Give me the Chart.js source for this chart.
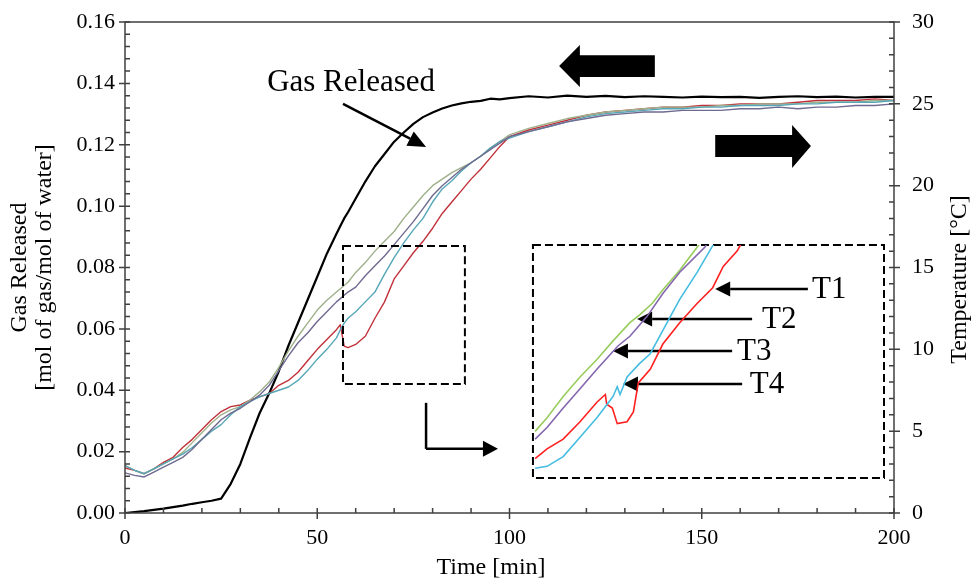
<!DOCTYPE html>
<html>
<head>
<meta charset="utf-8">
<script src="https://cdn.jsdelivr.net/npm/chart.js@4.4.0/dist/chart.umd.min.js"></script>
<style>
  html, body { margin: 0; padding: 0; background: #fff; }
  #wrap { position: relative; width: 976px; height: 583px; }
  #main { position: absolute; left: 0; top: 0; }
  #inset { position: absolute; left: 533px; top: 245px; }
</style>
</head>
<body>
<div id="wrap">
  <canvas id="main" width="976" height="583"></canvas>
  <canvas id="inset" width="351" height="233"></canvas>
</div>
<script>
// time axis [min]
const timeMin = [0, 2.5, 5, 7.5, 10, 12.5, 15, 17.5, 20, 22.5, 25, 27.5, 30, 32.5, 35, 37.5, 40, 42.5, 45, 47.5, 50, 52.5, 55,
  56, 57, 58,
  60, 62.5, 65, 67.5, 70, 72.5, 75, 77.5, 80, 82.5, 85, 87.5, 90, 92.5, 95, 97.5, 100,
  105, 110, 115, 120, 125, 130, 135, 140, 145, 150, 155, 160, 165, 170, 175, 180, 185, 190, 195, 200];

// gas released [mol of gas/mol of water]
const gasReleased = [0, 0.0003, 0.0006, 0.0010, 0.0014, 0.0019, 0.0024, 0.0030, 0.0035, 0.0040, 0.0047, 0.0095, 0.0160, 0.0245, 0.0325, 0.0390, 0.0462, 0.0545, 0.0620, 0.0695, 0.0770, 0.0845, 0.0910,
  0.0935, 0.0960, 0.0980,
  0.1025, 0.1080, 0.1130, 0.1170, 0.1210, 0.1240, 0.1268, 0.1290, 0.1305, 0.1318, 0.1328, 0.1335, 0.1340, 0.1343, 0.1350, 0.1348, 0.1352,
  0.1358, 0.1354, 0.1360, 0.1356, 0.1359, 0.1355, 0.1358, 0.1356, 0.1354, 0.1357, 0.1355, 0.1356, 0.1353, 0.1356, 0.1358, 0.1355, 0.1357, 0.1354, 0.1356, 0.1356];

// temperatures [°C]
const tempT1 = [2.75, 2.6, 2.4, 2.7, 3.1, 3.4, 4.0, 4.5, 5.1, 5.7, 6.2, 6.5, 6.6, 6.9, 7.1, 7.3, 7.8, 8.1, 8.6, 9.3, 10.0, 10.6, 11.2,
  11.5, 10.2, 10.1,
  10.3, 10.8, 11.9, 12.9, 14.3, 15.1, 15.9, 16.6, 17.4, 18.3, 19.0, 19.7, 20.4, 21.0, 21.7, 22.4, 23.0,
  23.4, 23.7, 24.0, 24.3, 24.5, 24.6, 24.7, 24.8, 24.8, 24.9, 24.9, 25.0, 25.0, 25.0, 25.1, 25.2, 25.2, 25.2, 25.3, 25.2];
const tempT2 = [2.9, 2.6, 2.4, 2.7, 3.0, 3.3, 3.7, 4.3, 4.9, 5.5, 6.0, 6.3, 6.5, 6.9, 7.4, 8.0, 8.9, 9.9, 10.8, 11.6, 12.4, 13.0, 13.5,
  13.7, 13.9, 14.1,
  14.7, 15.3, 16.0, 16.6, 17.2, 18.0, 18.7, 19.4, 20.0, 20.4, 20.8, 21.1, 21.4, 21.8, 22.3, 22.7, 23.1,
  23.5, 23.8, 24.1, 24.3, 24.5, 24.6, 24.7, 24.8, 24.8, 24.8, 24.9, 24.9, 25.0, 25.0, 25.0, 25.1, 25.1, 25.1, 25.2, 25.2];
const tempT3 = [2.45, 2.3, 2.2, 2.5, 2.8, 3.1, 3.4, 3.9, 4.5, 5.1, 5.7, 6.1, 6.4, 6.8, 7.2, 7.8, 8.7, 9.6, 10.4, 11.0, 11.7, 12.3, 12.9,
  13.1, 13.3, 13.5,
  13.8, 14.5, 15.1, 15.7, 16.4, 17.1, 17.8, 18.6, 19.4, 20.0, 20.5, 21.0, 21.4, 21.8, 22.2, 22.6, 23.0,
  23.3, 23.6, 23.9, 24.1, 24.3, 24.4, 24.5, 24.5, 24.6, 24.6, 24.6, 24.7, 24.7, 24.8, 24.7, 24.8, 24.8, 24.9, 24.9, 25.0];
const tempT4 = [2.9, 2.6, 2.4, 2.7, 3.0, 3.3, 3.6, 4.0, 4.5, 5.0, 5.4, 6.0, 6.5, 6.8, 7.1, 7.3, 7.5, 7.7, 8.1, 8.7, 9.4, 10.0, 10.7,
  11.2, 11.6, 11.9,
  12.3, 12.9, 13.5, 14.6, 15.6, 16.5, 17.3, 18.0, 19.0, 19.8, 20.3, 20.9, 21.4, 21.8, 22.3, 22.7, 22.9,
  23.3, 23.6, 23.9, 24.2, 24.4, 24.5, 24.6, 24.7, 24.7, 24.8, 24.8, 24.9, 24.9, 24.9, 25.0, 25.0, 25.1, 25.1, 25.1, 25.2];

// inset (zoomed view)
const insetT1Time = [45.3, 47.0, 49.3, 51.7, 54.1, 55.3, 55.5, 56.3, 57.0, 58.4, 59.3, 60.0, 61.7, 63.5, 65.9, 68.4, 70.6, 72.1, 74.1, 75.0];
const insetT1 = [8.0, 8.5, 9.0, 9.9, 10.9, 11.3, 10.8, 10.6, 9.8, 9.9, 10.4, 11.9, 12.6, 13.9, 15.0, 16.0, 16.8, 17.9, 18.7, 19.3];
const insetT2Time = [45.3, 47.0, 49.3, 51.7, 54.1, 56.5, 58.8, 60.2, 62.0, 63.5, 65.9, 68.4, 69.0];
const insetT2 = [9.4, 10.1, 11.2, 12.2, 13.1, 14.1, 15.0, 15.4, 16.0, 16.7, 17.7, 18.9, 19.2];
const insetT3Time = [45.3, 47.0, 49.3, 51.7, 54.1, 57.1, 58.8, 61.2, 63.5, 65.9, 69.5, 70.0];
const insetT3 = [9.0, 9.6, 10.6, 11.6, 12.6, 13.8, 14.3, 15.3, 16.5, 17.6, 18.9, 19.2];
const insetT4Time = [45.3, 47.0, 49.3, 51.7, 54.1, 56.0, 56.4, 57.0, 57.4, 58.4, 60.2, 61.7, 63.5, 65.9, 68.4, 70.5, 71.0];
const insetT4 = [7.5, 7.6, 8.1, 9.1, 10.1, 11.0, 11.2, 11.7, 11.3, 12.2, 12.9, 13.4, 14.6, 16.2, 17.6, 18.9, 19.2];

const FONT = '"Liberation Serif", "Times New Roman", serif';
const toPts = (xs, ys) => xs.map((x, i) => ({ x: x, y: ys[i] }));

function arrow(ctx, x1, y1, x2, y2, len, half) {
  const ang = Math.atan2(y2 - y1, x2 - x1);
  const bx = x2 - len * Math.cos(ang), by = y2 - len * Math.sin(ang);
  ctx.beginPath();
  ctx.moveTo(x1, y1);
  ctx.lineTo(bx, by);
  ctx.stroke();
  ctx.beginPath();
  ctx.moveTo(x2, y2);
  ctx.lineTo(bx + half * Math.sin(ang), by - half * Math.cos(ang));
  ctx.lineTo(bx - half * Math.sin(ang), by + half * Math.cos(ang));
  ctx.closePath();
  ctx.fill();
}

const annotate = {
  id: 'annotate',
  afterDraw(chart) {
    const { ctx, chartArea: a, scales } = chart;
    const X = t => scales.x.getPixelForValue(t);
    const Y = g => scales.yGas.getPixelForValue(g);
    ctx.save();

    // frame + ticks
    ctx.strokeStyle = '#404040';
    ctx.lineWidth = 1.5;
    ctx.strokeRect(a.left, a.top, a.right - a.left, a.bottom - a.top);
    ctx.beginPath();
    for (let t = 0; t <= 200; t += 10) {
      const px = X(t), major = t % 50 === 0;
      ctx.moveTo(px, a.bottom - 5);
      ctx.lineTo(px, a.bottom + (major ? 6 : 0));
    }
    for (let i = 0; i <= 40; i++) {
      const py = Y(i * 0.004), major = i % 5 === 0;
      ctx.moveTo(a.left + 5, py);
      ctx.lineTo(a.left - (major ? 6 : 0), py);
    }
    for (let c = 0; c <= 30; c++) {
      const py = scales.yTemp.getPixelForValue(c), major = c % 5 === 0;
      ctx.moveTo(a.right - 5, py);
      ctx.lineTo(a.right + (major ? 6 : 0), py);
    }
    ctx.stroke();

    // axis titles drawn here: x title sits left of centre, right title reads bottom to top
    ctx.fillStyle = '#000';
    ctx.font = '24px ' + FONT;
    ctx.textAlign = 'center';
    ctx.textBaseline = 'middle';
    ctx.fillText('Time [min]', a.left + 366, a.bottom + 55);
    ctx.save();
    ctx.translate(a.right + 66, (a.top + a.bottom) / 2 + 12);
    ctx.rotate(-Math.PI / 2);
    ctx.fillText('Temperature [°C]', 0, 0);
    ctx.restore();

    // "Gas Released" label + arrow
    ctx.strokeStyle = '#000';
    ctx.fillStyle = '#000';
    ctx.font = '31px ' + FONT;
    ctx.fillText('Gas Released', X(58.8), Y(0.1401));
    ctx.lineWidth = 2.5;
    arrow(ctx, X(56.7), Y(0.1333), X(78.3), Y(0.1193), 18, 8);

    // block arrows: left -> gas axis, right -> temperature axis
    const poly = pts => {
      ctx.beginPath();
      pts.forEach((p, i) => (i ? ctx.lineTo(X(p[0]), Y(p[1])) : ctx.moveTo(X(p[0]), Y(p[1]))));
      ctx.closePath();
      ctx.fill();
    };
    poly([[112.9, 0.1457], [118.3, 0.1525], [118.3, 0.1492], [137.8, 0.1492], [137.8, 0.1421], [118.3, 0.1421], [118.3, 0.1388]]);
    poly([[153.5, 0.1232], [173.5, 0.1232], [173.5, 0.1264], [178.4, 0.1196], [173.5, 0.1124], [173.5, 0.1160], [153.5, 0.1160]]);

    // dashed boxes
    ctx.lineWidth = 2;
    ctx.setLineDash([8, 4]);
    ctx.strokeRect(X(56.7), Y(0.0870), X(88.4) - X(56.7), Y(0.0420) - Y(0.0870));
    ctx.strokeRect(X(106.1), Y(0.0873), X(197.4) - X(106.1), Y(0.0114) - Y(0.0873));
    ctx.setLineDash([]);

    // L-shaped pointer to inset
    ctx.lineWidth = 2.5;
    ctx.beginPath();
    ctx.moveTo(X(78.3), Y(0.0359));
    ctx.lineTo(X(78.3), Y(0.0209));
    ctx.stroke();
    arrow(ctx, X(78.3), Y(0.0209), X(97.0), Y(0.0209), 15, 8);

    // T1..T4 labels
    ctx.font = '31px ' + FONT;
    ctx.textAlign = 'left';
    const labels = [['T1', 153.5, 177.6, 178.7, 0.0730], ['T2', 133.2, 163.1, 165.7, 0.0632],
                    ['T3', 126.9, 157.9, 159.2, 0.0528], ['T4', 129.5, 160.5, 162.5, 0.0420]];
    labels.forEach(l => {
      arrow(ctx, X(l[2]), Y(l[4]), X(l[1]), Y(l[4]), 15, 7.5);
      ctx.fillText(l[0], X(l[3]), Y(l[4]) + 1);
    });
    ctx.restore();
  }
};

// small lineHeight on the y tick fonts keeps their padding from pushing the plot top down
new Chart(document.getElementById('main'), {
  type: 'line',
  data: {
    datasets: [
      { label: 'T3', data: toPts(timeMin, tempT3), yAxisID: 'yTemp', borderColor: '#6e6a90', borderWidth: 1.4 },
      { label: 'T4', data: toPts(timeMin, tempT4), yAxisID: 'yTemp', borderColor: '#55a6b6', borderWidth: 1.4 },
      { label: 'T2', data: toPts(timeMin, tempT2), yAxisID: 'yTemp', borderColor: '#9fb08a', borderWidth: 1.4 },
      { label: 'T1', data: toPts(timeMin, tempT1), yAxisID: 'yTemp', borderColor: '#c0303a', borderWidth: 1.4 },
      { label: 'Gas Released', data: toPts(timeMin, gasReleased), yAxisID: 'yGas', borderColor: '#000', borderWidth: 2.2 }
    ]
  },
  options: {
    responsive: false,
    animation: false,
    devicePixelRatio: 1,
    layout: { padding: { top: 22, left: 0, right: 0, bottom: 0 } },
    elements: { point: { radius: 0 }, line: { tension: 0, borderJoinStyle: 'round' } },
    plugins: { legend: { display: false }, tooltip: { enabled: false } },
    scales: {
      x: {
        type: 'linear', min: 0, max: 200,
        ticks: { stepSize: 50, color: '#000', font: { family: FONT, size: 22 }, padding: 12, maxRotation: 0 },
        grid: { display: false, drawTicks: false },
        border: { display: false },
        afterFit: s => { s.height = 70; }
      },
      yGas: {
        position: 'left', min: 0, max: 0.16,
        ticks: { stepSize: 0.02, color: '#000', font: { family: FONT, size: 22, lineHeight: 0.3 }, padding: 10, callback: v => v.toFixed(2) },
        grid: { display: false, drawTicks: false },
        border: { display: false },
        title: { display: true, text: ['Gas Released', '[mol of gas/mol of water]'], color: '#000', font: { family: FONT, size: 24, lineHeight: 1.05 }, padding: { top: 7, bottom: 0 } },
        afterFit: s => { s.width = 125; }
      },
      yTemp: {
        position: 'right', min: 0, max: 30,
        ticks: { stepSize: 5, color: '#000', font: { family: FONT, size: 22, lineHeight: 0.3 }, padding: 18 },
        grid: { display: false, drawTicks: false },
        border: { display: false },
        afterFit: s => { s.width = 82; }
      }
    }
  },
  plugins: [annotate]
});

new Chart(document.getElementById('inset'), {
  type: 'line',
  data: {
    datasets: [
      { label: 'T3', data: toPts(insetT3Time, insetT3), borderColor: '#8466ae', borderWidth: 1.6 },
      { label: 'T2', data: toPts(insetT2Time, insetT2), borderColor: '#98cc5c', borderWidth: 1.6 },
      { label: 'T4', data: toPts(insetT4Time, insetT4), borderColor: '#45bde0', borderWidth: 1.6 },
      { label: 'T1', data: toPts(insetT1Time, insetT1), borderColor: '#ff2020', borderWidth: 1.6 }
    ]
  },
  options: {
    responsive: false,
    animation: false,
    devicePixelRatio: 1,
    layout: { padding: 0 },
    elements: { point: { radius: 0 }, line: { tension: 0 } },
    plugins: { legend: { display: false }, tooltip: { enabled: false } },
    scales: {
      x: { type: 'linear', min: 45, max: 95, display: false },
      y: { min: 7, max: 19, display: false }
    }
  }
});
</script>
</body>
</html>
